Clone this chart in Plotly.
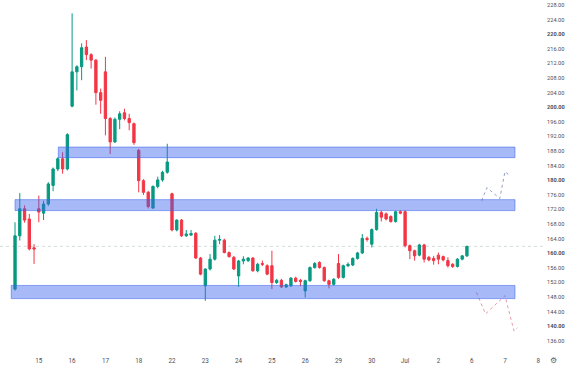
import plotly.graph_objects as go

# ---- OHLC data (hourly candles) ----
opens = [150.2,164.8,172.2,169.4,161.5,172.2,171.0,173.5,178.6,183.1,185.9,183.1,200.3,209.7,211.1,216.5,
         214.4,212.9,204.0,209.7,196.9,190.5,196.7,198.5,196.9,195.5,188.2,179.9,176.7,172.4,178.3,180.1,
         182.2,176.3,166.4,169.1,164.8,165.0,165.5,158.7,151.1,155.7,158.4,163.6,163.6,160.2,158.9,153.8,
         157.9,158.0,158.7,155.2,157.2,156.6,156.6,152.0,152.6,150.8,151.1,153.2,152.6,149.7,152.5,156.1,
         157.5,156.1,152.5,151.5,157.2,153.4,156.6,156.8,158.6,160.1,164.1,162.5,166.5,171.2,170.8,170.1,
         168.7,171.4,171.4,162.1,160.7,159.5,162.3,158.9,158.6,159.5,159.1,158.0,157.0,156.4,158.4,159.3]
highs = [168.5,176.5,173.1,170.8,162.5,175.8,174.4,179.5,183.5,186.3,187.7,192.9,225.7,211.5,217.5,218.4,
         214.8,213.2,205.1,213.8,197.3,197.2,198.9,199.6,198.2,195.8,188.6,180.3,177.1,178.6,181.0,182.6,
         190.0,176.6,169.3,169.4,166.4,166.4,165.8,159.0,155.9,159.8,164.8,165.0,164.0,160.5,159.3,158.2,
         159.2,159.0,159.0,157.4,158.0,157.0,160.7,153.0,153.0,151.7,153.5,153.6,153.0,152.8,156.4,157.6,
         157.8,156.4,152.8,153.2,159.8,156.9,157.5,158.9,160.4,165.3,164.6,166.8,172.2,171.7,171.2,170.4,
         171.7,171.8,171.8,162.4,161.0,162.6,162.6,159.3,159.3,160.2,159.4,158.9,157.3,158.7,159.5,162.1]
lows = [149.8,163.5,168.4,160.8,157.1,168.5,169.1,173.0,177.0,182.5,181.8,182.7,200.0,204.6,207.4,212.9,
        210.6,200.7,198.2,192.3,187.2,190.2,194.0,196.4,193.7,189.7,176.7,176.0,172.3,172.2,177.8,179.6,
        181.8,166.0,166.0,164.5,164.5,164.8,158.5,154.0,147.0,155.3,158.0,162.5,160.0,158.8,155.4,150.8,
        157.0,157.6,155.0,154.8,156.5,154.0,150.2,151.6,150.5,150.5,150.8,152.0,151.0,147.9,152.2,155.8,
        155.8,152.2,150.4,151.2,153.0,153.1,156.2,156.5,158.3,159.8,163.2,161.6,166.2,168.7,169.0,168.4,
        168.4,170.7,161.6,158.4,158.0,159.2,157.5,157.8,156.9,157.0,157.8,156.1,156.0,156.1,158.1,159.0]
closes = [164.8,172.2,169.1,161.2,161.2,171.3,173.5,179.0,183.1,185.9,183.1,192.5,209.7,211.1,216.3,214.4,
          212.9,204.0,201.9,196.9,190.5,196.7,198.2,196.9,195.8,190.3,179.9,176.7,172.8,178.3,180.1,182.2,
          185.0,166.4,169.1,164.8,165.3,165.4,158.7,154.3,155.7,158.4,163.6,163.8,160.2,159.1,155.7,157.9,
          158.4,158.7,155.2,157.0,157.0,154.3,152.0,152.6,150.8,151.4,153.2,152.3,152.3,152.5,156.1,157.2,
          156.1,152.5,151.5,152.9,153.4,156.6,157.0,158.6,160.1,164.1,163.8,166.5,171.2,169.9,169.4,168.7,
          171.4,171.0,162.1,160.7,159.3,162.3,158.4,158.2,158.0,158.4,158.2,156.6,156.4,158.4,159.3,161.9]
candle_idx = list(range(len(opens)))

# ---- axis labels ----
day_pos = [5, 12, 19, 26, 33, 40, 47, 54, 61, 68, 75, 82, 89, 96, 103, 110]
day_labels = ["15", "16", "17", "18", "22", "23", "24", "25", "26", "29", "30", "Jul", "2", "6", "7", "8"]
price_ticks = list(range(136, 229, 4))
bold_ticks = [140, 160, 180, 200, 220]

# ---- drawn zones (price bands) and projections ----
zone_left = [9.1, 0.0, -0.8]
zone_right = [105.1, 105.1, 105.1]
zone_low = [186.2, 171.7, 147.6]
zone_high = [189.1, 174.7, 151.2]

proj_up_x = [98.1, 99.2, 101.9, 103.0, 103.7]
proj_up_y = [174.4, 178.0, 175.0, 182.4, 181.6]
proj_dn_x = [97.0, 98.9, 103.0, 104.9, 105.6]
proj_dn_y = [149.3, 143.4, 148.4, 138.7, 139.6]

GREEN = "#089981"
RED = "#F23645"

fig = go.Figure()
fig.add_trace(go.Candlestick(
    x=candle_idx, open=opens, high=highs, low=lows, close=closes,
    increasing=dict(line=dict(color=GREEN, width=1), fillcolor=GREEN),
    decreasing=dict(line=dict(color=RED, width=1), fillcolor=RED),
    showlegend=False, hoverinfo="skip"))

fig.add_trace(go.Scatter(x=proj_up_x, y=proj_up_y, mode="lines",
                         line=dict(color="#97a3c2", width=1, dash="dot"), showlegend=False))
fig.add_trace(go.Scatter(x=proj_dn_x, y=proj_dn_y, mode="lines",
                         line=dict(color="#eb98a1", width=1, dash="dot"), showlegend=False))

for xl, xr, yl, yh in zip(zone_left, zone_right, zone_low, zone_high):
    fig.add_shape(type="rect", xref="x", yref="y", x0=xl, x1=xr, y0=yl, y1=yh,
                  fillcolor="rgba(60,100,235,0.45)", line=dict(color="rgba(60,100,235,0.55)", width=1),
                  layer="above")

# last price line
fig.add_shape(type="line", xref="paper", yref="y", x0=0, x1=1, y0=closes[-1], y1=closes[-1],
              line=dict(color="rgba(120,160,150,0.35)", width=1, dash="dot"), layer="below")

ticktext = [("<b>%.2f</b>" % v) if v in bold_ticks else ("%.2f" % v) for v in price_ticks]

fig.update_layout(
    width=565, height=366,
    margin=dict(l=0, r=21, t=0, b=15),
    paper_bgcolor="white", plot_bgcolor="white",
    font=dict(family="Roboto", size=6.3, color="#4a4e5a"),
    xaxis=dict(range=[-3.16, 111.2], tickmode="array", tickvals=day_pos, ticktext=day_labels,
               showgrid=False, zeroline=False, showline=False, ticks="outside", ticklen=3,
               tickcolor="rgba(0,0,0,0)", rangeslider=dict(visible=False), fixedrange=True,
               automargin=False),
    yaxis=dict(range=[133.25, 229.37], side="right", tickmode="array", tickvals=price_ticks,
               ticktext=ticktext, showgrid=False, zeroline=False, showline=False,
               ticks="outside", ticklen=1, tickcolor="rgba(0,0,0,0)", automargin=False,
               tickfont=dict(size=5.6)),
)

fig.add_annotation(xref="paper", yref="paper", x=1.0, y=0, xanchor="left", yanchor="top",
                   xshift=4, yshift=-3, text="\u2699", showarrow=False,
                   font=dict(size=8, color="#5d606b"))

fig.write_html("out.html")
